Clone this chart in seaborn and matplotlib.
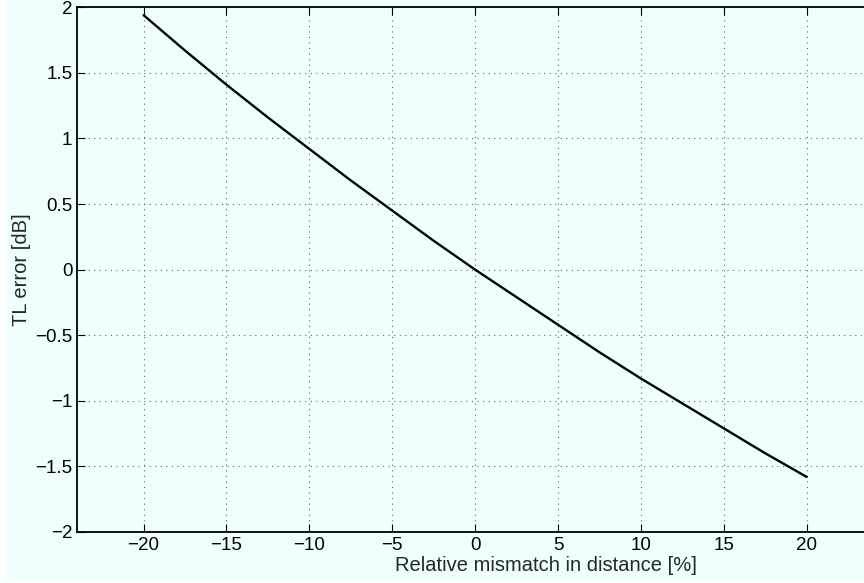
import matplotlib
matplotlib.use("Agg")
import matplotlib.pyplot as plt
import seaborn as sns
import pandas as pd
from matplotlib.patches import Rectangle

mismatch = [-20, -17.5, -15, -12.5, -10, -7.5, -5, -2.5, 0, 2.5, 5, 7.5, 10, 12.5, 15, 17.5, 20]
tl_error = [1.94, 1.67, 1.41, 1.16, 0.92, 0.68, 0.45, 0.22, 0.0, -0.21, -0.42, -0.63, -0.83, -1.02, -1.21, -1.40, -1.58]
xticks = [-20, -15, -10, -5, 0, 5, 10, 15, 20]
yticks = [-2, -1.5, -1, -0.5, 0, 0.5, 1, 1.5, 2]
ytick_labels = ["\u22122", "\u22121.5", "\u22121", "\u22120.5", "0", "0.5", "1", "1.5", "2"]
xtick_labels = ["\u221220", "\u221215", "\u221210", "\u22125", "0", "5", "10", "15", "20"]

sns.set_style("ticks")
plt.rcParams['font.family'] = ['Liberation Sans', 'DejaVu Sans']

bg = "#EFFFFF"
W, H = 864, 583
fig = plt.figure(figsize=(W / 100, H / 100), dpi=100, facecolor=bg)
left, right, top, bottom = 77.3, 873.0, 7.3, 532.0
ax = fig.add_axes([left / W, 1 - bottom / H, (right - left) / W, (bottom - top) / H])
ax.set_facecolor(bg)

df = pd.DataFrame({"x": mismatch, "y": tl_error})
sns.lineplot(data=df, x="x", y="y", ax=ax, color="black", linewidth=1.7)

ax.set_xlim(-24, 24)
ax.set_ylim(-2, 2)
ax.set_xticks(xticks)
ax.set_xticklabels(xtick_labels)
ax.set_yticks(yticks)
ax.set_yticklabels(ytick_labels)
ax.tick_params(direction="in", length=6, width=0.8, labelsize=13.5, colors="black",
               top=True, right=False)
ax.tick_params(axis="x", pad=3.5)
ax.tick_params(axis="y", pad=3.5)
for s in ax.spines.values():
    s.set_linewidth(1.3)
    s.set_color("black")
ax.spines["right"].set_visible(False)
ax.grid(True, linestyle=(0, (1, 4)), color="#666666", linewidth=0.8)
ax.set_xlabel("Relative mismatch in distance [%]", fontsize=14.5)
ax.xaxis.set_label_coords((546 - left) / (right - left), -(556 - bottom) / (bottom - top))
ax.set_ylabel("TL error [dB]", fontsize=14.5, labelpad=3)

fig.patches.append(Rectangle((0, 0), 6 / W, 1, transform=fig.transFigure, facecolor="white", edgecolor="none", zorder=-1))
fig.patches.append(Rectangle((0, 0), 1, 3 / H, transform=fig.transFigure, facecolor="white", edgecolor="none", zorder=-1))

fig.savefig("out.png", dpi=100, facecolor=bg)
